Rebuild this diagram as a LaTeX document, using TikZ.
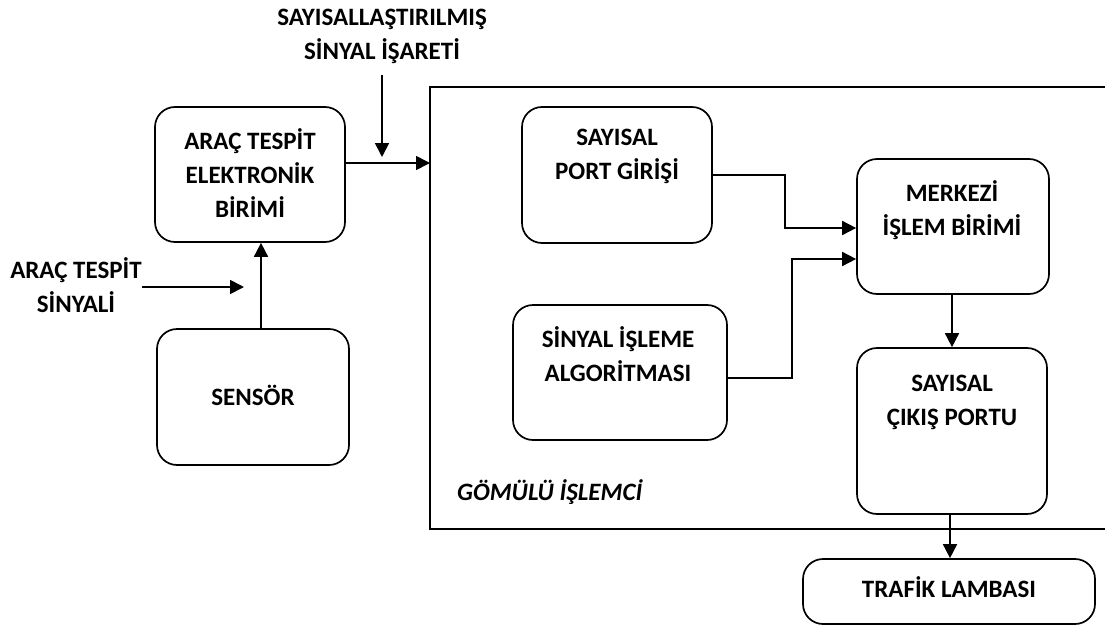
\documentclass[tikz,border=0pt]{standalone}
\usepackage{fontspec}
\setmainfont{Carlito}
\usetikzlibrary{arrows.meta}
\begin{document}
\begin{tikzpicture}[x=1pt,y=-1pt,
  box/.style={draw, line width=1.7pt, rounded corners=20pt, inner sep=0pt},
  txt/.style={font=\fontsize{25}{34}\selectfont\bfseries, align=center, inner sep=0pt},
  arr/.style={line width=1.7pt, -{Triangle[length=14pt,width=14pt]}},
  ln/.style={line width=1.7pt}]
\useasboundingbox (0,0) rectangle (1105,626);
% boxes
\node[box, minimum width=190pt, minimum height=135pt] (ateb) at (250,174.5) {};
\node[box, minimum width=192pt, minimum height=136pt] (sensor) at (253,397) {};
\node[box, minimum width=190pt, minimum height=136pt] (spg) at (617,175) {};
\node[box, minimum width=214pt, minimum height=135pt] (sia) at (620,372.5) {};
\node[box, minimum width=192pt, minimum height=135pt] (mib) at (953,226.5) {};
\node[box, minimum width=190pt, minimum height=166pt] (scp) at (952,431) {};
\node[box, minimum width=292pt, minimum height=65pt] (tl) at (949,591.5) {};
% texts
\node[txt] (tateb) at (250,173) {ARAÇ TESPİT\\ELEKTRONİK\\BİRİMİ};
\node[txt] (tsensor) at (253,395) {SENSÖR};
\node[txt] (tspg) at (617,156.5) {SAYISAL\\PORT GİRİŞİ};
\node[txt] (tsia) at (618,354.5) {SİNYAL İŞLEME\\ALGORİTMASI};
\node[txt] (tmib) at (952,210) {MERKEZİ\\İŞLEM BİRİMİ};
\node[txt] (tscp) at (952,402.5) {SAYISAL\\ÇIKIŞ PORTU};
\node[txt] (ttl) at (949,587) {TRAFİK LAMBASI};
\node[txt] (ttop) at (382,36) {SAYISALLAŞTIRILMIŞ\\SİNYAL İŞARETİ};
\node[txt] (tleft) at (76,285.5) {ARAÇ TESPİT\\SİNYALİ};
\node[txt, font=\fontsize{25}{34}\selectfont\bfseries\itshape, anchor=west] (tgom) at (457,492) {GÖMÜLÜ İŞLEMCİ};
% embedded processor frame (right side outside the picture)
\coordinate (ftr) at (1105,87);
\coordinate (ftl) at (430,87);
\coordinate (fbl) at (430,529);
\coordinate (fbr) at (1105,529);
\draw[ln] (ftr) -- (ftl) -- (fbl) -- (fbr);
% connectors
\coordinate (sx) at (261,0);
\draw[arr] (sensor.north -| sx) -- (ateb.south -| sx);
\coordinate (sigs) at (142,287);
\coordinate (sige) at (244,287);
\draw[arr] (sigs) -- (sige);
\coordinate (dgs) at (382,75);
\coordinate (dge) at (382,157);
\draw[arr] (dgs) -- (dge);
\coordinate (fin) at (430,163);
\draw[arr] (ateb.east |- fin) -- (fin);
\coordinate (j1) at (785,228);
\draw[arr] (spg.east) -| (j1) -- (mib.west |- j1);
\coordinate (j2) at (792,259);
\coordinate (siaout) at (727,378);
\draw[arr] (sia.east |- siaout) -| (j2) -- (mib.west |- j2);
\draw[arr] (mib.south -| scp.north) -- (scp.north);
\coordinate (tx) at (950,0);
\draw[arr] (scp.south -| tx) -- (tl.north -| tx);
\end{tikzpicture}
\end{document}
